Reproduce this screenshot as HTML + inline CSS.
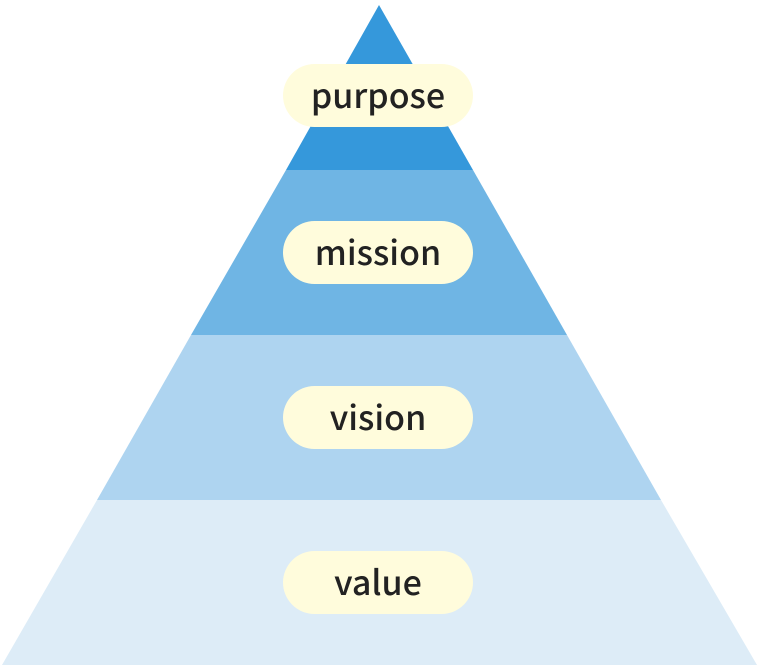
<!DOCTYPE html>
<html><head><style>
body{margin:0;background:#fff;width:760px;height:671px;overflow:hidden;position:relative;font-family:"Liberation Sans","Noto Sans CJK JP",sans-serif}
.p{position:absolute;left:283px;width:190px;height:63px;border-radius:32px;background:#FFFCDC;color:#222;font-size:34px;font-weight:500;text-align:center;line-height:59px;font-family:"Noto Sans CJK JP","Liberation Sans",sans-serif}
</style></head><body>
<svg width="760" height="671" style="position:absolute;left:0;top:0">
<polygon points="379,5 473,170 286,170" fill="#3598DB"/>
<polygon points="286,170 473,170 567,335 191,335" fill="#6FB5E4"/>
<polygon points="191,335 567,335 661,500 97,500" fill="#AED4F0"/>
<polygon points="97,500 661,500 757,665 2,665" fill="#DDECF7"/>
</svg>
<div class="p" style="top:64px">purpose</div>
<div class="p" style="top:221px">mission</div>
<div class="p" style="top:386px">vision</div>
<div class="p" style="top:551px">value</div>
</body></html>
